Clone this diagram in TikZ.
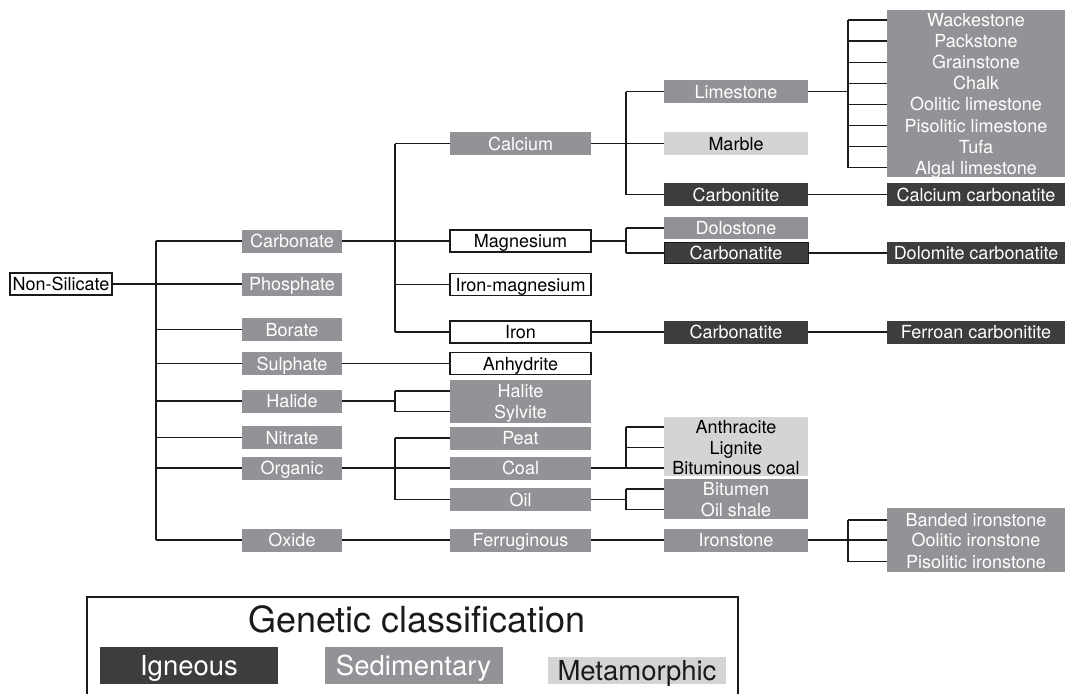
\documentclass[tikz,border=0pt]{standalone}
\usepackage{fontspec}
\setmainfont{TeX Gyre Heros}
\definecolor{sed}{HTML}{929396}
\definecolor{ign}{HTML}{3D3D3D}
\definecolor{met}{HTML}{D3D4D6}
\definecolor{ink}{HTML}{1A1A1A}
\begin{document}
\begin{tikzpicture}[x=1pt,y=-1pt,
  lbl/.style={inner sep=0pt, text height=13pt, text depth=0pt, font=\fontsize{18}{20}\selectfont},
  box/.style={lbl, minimum height=23pt},
  sedbox/.style={box, fill=sed, text=white},
  ignbox/.style={box, fill=ign, text=white},
  metbox/.style={box, fill=met, text=black},
  wbox/.style={box, draw=ink, line width=1.2pt, fill=white, text=black},
  lvA/.style={minimum width=100pt},
  lvB/.style={minimum width=141pt},
  lvC/.style={minimum width=144pt},
  lvD/.style={minimum width=178pt},
  panel/.style={inner sep=0pt, minimum width=#1},
  rowW/.style={lbl, text=white},
  rowK/.style={lbl, text=black},
  link/.style={line width=1.4pt, draw=ink},
  legtxt/.style={inner sep=0pt, text height=19.6pt, text depth=0pt, font=\fontsize{27.5}{30}\selectfont, minimum width=178pt},
]
\useasboundingbox (0,0) rectangle (1065,694);

% ---------- level 0 ----------
\node[wbox, minimum width=102pt, minimum height=22pt] (ns) at (61,284) {Non-Silicate};

% ---------- level 1 ----------
\node[sedbox,lvA] (carb) at (292,241) {Carbonate};
\node[sedbox,lvA] (phos) at (292,284) {Phosphate};
\node[sedbox,lvA] (bor)  at (292,329.5) {Borate};
\node[sedbox,lvA] (sul)  at (292,363.5) {Sulphate};
\node[sedbox,lvA] (hal)  at (292,401) {Halide};
\node[sedbox,lvA] (nit)  at (292,437.5) {Nitrate};
\node[sedbox,lvA] (org)  at (292,468) {Organic};
\node[sedbox,lvA] (oxi)  at (292,540) {Oxide};

% ---------- level 2 ----------
\node[sedbox,lvB] (cal)  at (520.5,143.5) {Calcium};
\node[wbox,lvB, minimum height=22pt] (mag)  at (520.5,241) {Magnesium};
\node[wbox,lvB, minimum height=22pt] (femg) at (520.5,284.5) {Iron-magnesium};
\node[wbox,lvB, minimum height=22pt] (iron) at (520.5,332) {Iron};
\node[wbox,lvB, minimum height=22pt] (anh)  at (520.5,363.5) {Anhydrite};
\node[fill=sed, panel=141pt, minimum height=43pt] (hsbox) at (520.5,401.5) {};
\node[rowW] (hali) at (520.5,391) {Halite};
\node[rowW] (sylv) at (520.5,411.5) {Sylvite};
\node[sedbox,lvB] (peat) at (520.5,438) {Peat};
\node[sedbox,lvB] (coal) at (520.5,468) {Coal};
\node[sedbox,lvB] (oil)  at (520.5,499.5) {Oil};
\node[sedbox,lvB] (ferr) at (520.5,540) {Ferruginous};

% ---------- level 3 ----------
\node[sedbox,lvC] (lime) at (736,91.5) {Limestone};
\node[metbox,lvC] (marb) at (736,143.5) {Marble};
\node[ignbox,lvC] (cbnt) at (736,194.5) {Carbonitite};
\node[sedbox,lvC, minimum height=22pt] (dolo) at (736,228) {Dolostone};
\node[ignbox,lvC, draw=ink, line width=1pt, minimum height=21pt] (cbn2) at (736,253) {Carbonatite};
\node[ignbox,lvC] (cbn3) at (736,332) {Carbonatite};
\node[fill=met, panel=144pt, minimum height=59pt] (anbox) at (736,446.5) {};
\node[rowK] (an1) at (736,427) {Anthracite};
\node[rowK] (an2) at (736,447.5) {Lignite};
\node[rowK] (an3) at (736,468) {Bituminous coal};
\node[fill=sed, panel=144pt, minimum height=40pt] (bibox) at (736,499) {};
\node[rowW] (bi1) at (736,489) {Bitumen};
\node[rowW] (bi2) at (736,509.5) {Oil shale};
\node[sedbox,lvC] (irst) at (736,540) {Ironstone};

% ---------- level 4 ----------
\node[fill=sed, panel=178pt, minimum height=167pt] (lsl) at (976,93.5) {};
\node[rowW] (w1) at (976,20)    {Wackestone};
\node[rowW] (w2) at (976,41.1)  {Packstone};
\node[rowW] (w3) at (976,62.2)  {Grainstone};
\node[rowW] (w4) at (976,83.3)  {Chalk};
\node[rowW] (w5) at (976,104.4) {Oolitic limestone};
\node[rowW] (w6) at (976,125.5) {Pisolitic limestone};
\node[rowW] (w7) at (976,146.6) {Tufa};
\node[rowW] (w8) at (976,167.7) {Algal limestone};
\node[ignbox,lvD] (cacb) at (976,194.5) {Calcium carbonatite};
\node[ignbox,lvD, minimum height=22pt] (dolc) at (976,253) {Dolomite carbonatite};
\node[ignbox,lvD] (ferc) at (976,332) {Ferroan carbonitite};
\node[fill=sed, panel=178pt, minimum height=64pt] (irbox) at (976,540) {};
\node[rowW] (ir1) at (976,520)   {Banded ironstone};
\node[rowW] (ir2) at (976,540)   {Oolitic ironstone};
\node[rowW] (ir3) at (976,561.5) {Pisolitic ironstone};

% ---------- branch columns ----------
\coordinate (b1) at (156,0);
\coordinate (b2) at (395,0);
\coordinate (b3) at (626,0);
\coordinate (b4) at (848,0);

% level 0 -> 1
\draw[link] (ns.east) -- (phos.west);
\draw[link] (b1 |- carb.west) -- (b1 |- oxi.west);
\foreach \n in {carb,bor,sul,hal,nit,org,oxi}
  \draw[link] (b1 |- \n.west) -- (\n.west);

% carbonate
\draw[link] (carb.east) -- (mag.west);
\draw[link] (b2 |- cal.west) -- (b2 |- iron.west);
\foreach \n in {cal,femg,iron}
  \draw[link] (b2 |- \n.west) -- (\n.west);

% sulphate, halide
\draw[link] (sul.east) -- (anh.west);
\draw[link] (hal.east) -- (b2 |- hal.east);
\draw[link] (b2 |- hali) -- (b2 |- sylv);
\draw[link] (b2 |- hali) -- (hsbox.west |- hali);
\draw[link] (b2 |- sylv) -- (hsbox.west |- sylv);

% organic
\draw[link] (org.east) -- (coal.west);
\draw[link] (b2 |- peat.west) -- (b2 |- oil.west);
\draw[link] (b2 |- peat.west) -- (peat.west);
\draw[link] (b2 |- oil.west) -- (oil.west);

% oxide
\draw[link] (oxi.east) -- (ferr.west);
\draw[link] (ferr.east) -- (irst.west);
\draw[link] (irst.east) -- (b4 |- irst.east);
\draw[link] (b4 |- ir1) -- (b4 |- ir3);
\foreach \n in {ir1,ir2,ir3}
  \draw[link] (b4 |- \n) -- (irbox.west |- \n);

% calcium
\draw[link] (cal.east) -- (marb.west);
\draw[link] (b3 |- lime.west) -- (b3 |- cbnt.west);
\draw[link] (b3 |- lime.west) -- (lime.west);
\draw[link] (b3 |- cbnt.west) -- (cbnt.west);
\draw[link] (cbnt.east) -- (cacb.west);

% limestone list
\draw[link] (lime.east) -- (b4 |- lime.east);
\draw[link] (b4 |- w1) -- (b4 |- w8);
\foreach \n in {w1,w2,w3,w4,w5,w6,w7,w8}
  \draw[link] (b4 |- \n) -- (lsl.west |- \n);

% magnesium
\draw[link] (mag.east) -- (b3 |- mag.east);
\draw[link] (b3 |- dolo.west) -- (b3 |- cbn2.west);
\draw[link] (b3 |- dolo.west) -- (dolo.west);
\draw[link] (b3 |- cbn2.west) -- (cbn2.west);
\draw[link] (cbn2.east) -- (dolc.west);

% iron
\draw[link] (iron.east) -- (cbn3.west);
\draw[link] (cbn3.east) -- (ferc.west);

% coal, oil
\draw[link] (coal.east) -- (b3 |- coal.east);
\draw[link] (b3 |- an1) -- (b3 |- an3);
\foreach \n in {an1,an2,an3}
  \draw[link] (b3 |- \n) -- (anbox.west |- \n);
\draw[link] (oil.east) -- (b3 |- oil.east);
\draw[link] (b3 |- bi1) -- (b3 |- bi2);
\foreach \n in {bi1,bi2}
  \draw[link] (b3 |- \n) -- (bibox.west |- \n);

% ---------- legend ----------
\coordinate (lgA) at (87,694);
\coordinate (lgB) at (87,597);
\coordinate (lgC) at (738,597);
\coordinate (lgD) at (738,694);
\draw[line width=1.3pt, draw=ink] (lgA) -- (lgB) -- (lgC) -- (lgD);
\node[inner sep=0pt, text height=25.5pt, text depth=0pt, font=\fontsize{36}{38}\selectfont, text=ink] (lgt) at (417,619.5) {Genetic classification};
\node[legtxt, fill=ign, text=white, minimum height=37pt] (lig) at (189,665.5) {Igneous};
\node[legtxt, fill=sed, text=white, minimum height=37pt] (lsd) at (413.5,665.5) {Sedimentary};
\node[legtxt, fill=met, text=ink, minimum height=27pt] (lmt) at (637,670.5) {Metamorphic};
\end{tikzpicture}
\end{document}
